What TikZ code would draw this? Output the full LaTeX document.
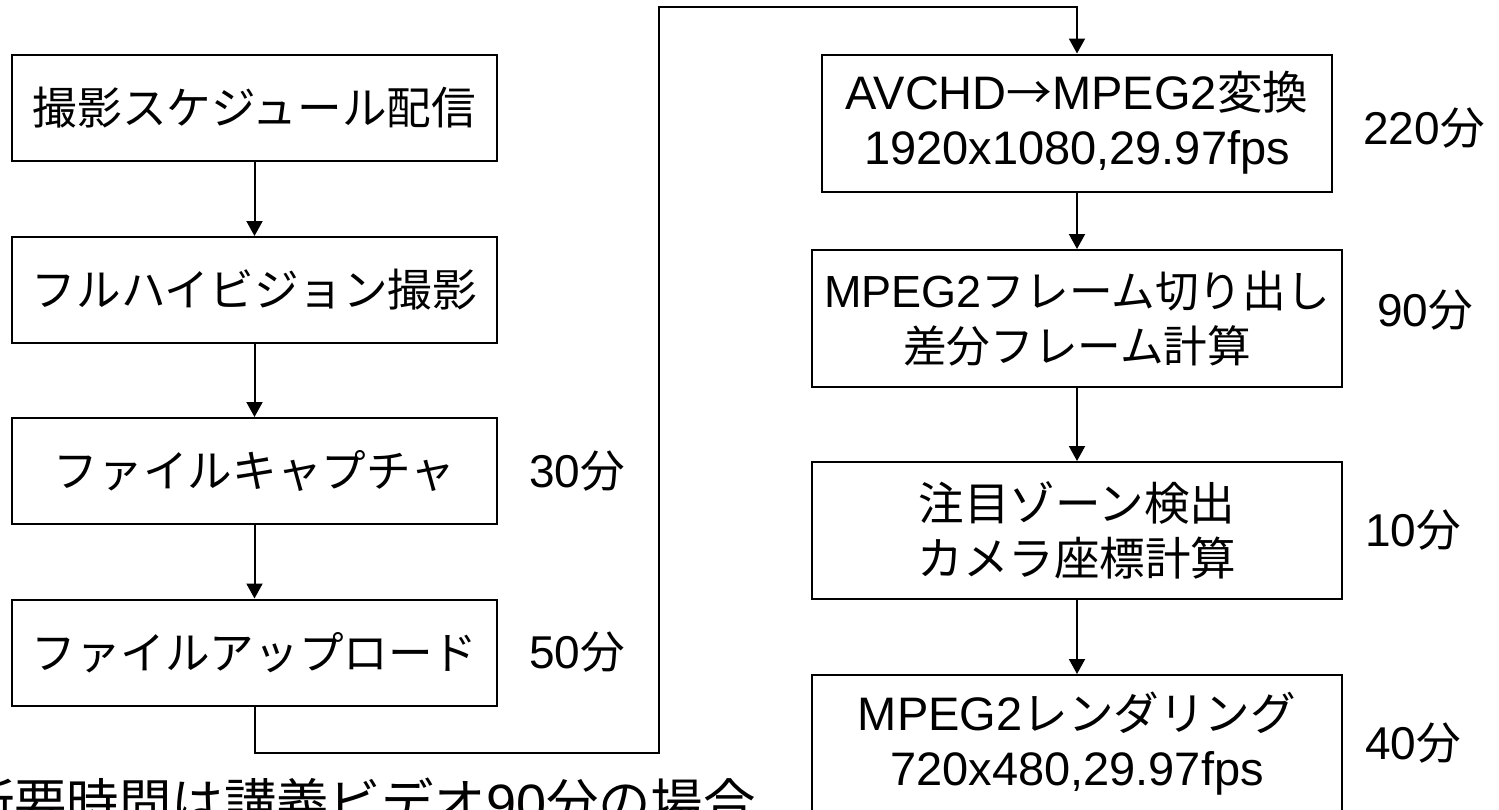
\documentclass[tikz,border=0pt]{standalone}
\usepackage{fontspec}
\setmainfont{Liberation Sans}
\newfontfamily\cjk[Scale=0.97]{Noto Sans CJK JP}
\newcommand{\jp}[1]{{\cjk #1}}
\usetikzlibrary{arrows.meta}
\begin{document}
\begin{tikzpicture}[x=0.5pt,y=-0.5pt,
  box/.style={draw=black, line width=1pt, inner sep=0pt, align=center, font=\fontsize{23}{27.5}\selectfont},
  lbox/.style={box, minimum width=242.5pt, minimum height=53pt},
  rbox/.style={box, minimum width=265pt, minimum height=68.5pt, font=\fontsize{23.5}{27.5}\selectfont},
  lab/.style={inner sep=0pt, anchor=west, font=\fontsize{23}{27.5}\selectfont},
  arr/.style={line width=1pt, -{Triangle[width=8pt,length=7.5pt]}}]
\useasboundingbox (0,0) rectangle (1499,809);
% left column
\node[lbox] (b1) at (254.5,108) {\jp{撮影スケジュール配信}};
\node[lbox] (b2) at (254.5,290) {\jp{フルハイビジョン撮影}};
\node[lbox] (b3) at (254.5,471) {\jp{ファイルキャプチャ}};
\node[lbox] (b4) at (254.5,652.5) {\jp{ファイルアップロード}};
% right column
\node[rbox, minimum width=255pt] (b5) at (1077,123) {AVCHD\jp{→}MPEG2\jp{変換}\\1920x1080,29.97fps};
\node[rbox, font=\fontsize{22.5}{27.5}\selectfont] (b6) at (1077,318.5) {MPEG2\jp{フレーム切り出し}\\\jp{差分フレーム計算}};
\node[rbox] (b7) at (1077,530.5) {\jp{注目ゾーン検出}\\\jp{カメラ座標計算}};
\node[rbox] (b8) at (1077,743.5) {MPEG2\jp{レンダリング}\\720x480,29.97fps};
% time labels
\node[lab] (l3) at (529,471) {30\jp{分}};
\node[lab] (l4) at (529,652.5) {50\jp{分}};
\node[lab] (l5) at (1363,128) {220\jp{分}};
\node[lab] (l6) at (1377,310) {90\jp{分}};
\node[lab] (l7) at (1365,530) {10\jp{分}};
\node[lab] (l8) at (1365,743) {40\jp{分}};
% bottom note (cut by the lower edge, as in the reference)
\node[inner sep=0pt, anchor=base east, font=\fontsize{27}{30}\selectfont] (note) at (756,822) {\jp{所要時間は講義ビデオ}90\jp{分の場合}};
% connectors
\coordinate (c1) at (659,753);
\coordinate (c2) at (659,7);
\draw[arr] (b1) -- (b2);
\draw[arr] (b2) -- (b3);
\draw[arr] (b3) -- (b4);
\draw[arr] (b4.south) |- (c1) -- (c2) -| (b5.north);
\draw[arr] (b5) -- (b6);
\draw[arr] (b6) -- (b7);
\draw[arr] (b7) -- (b8);
\end{tikzpicture}
\end{document}
